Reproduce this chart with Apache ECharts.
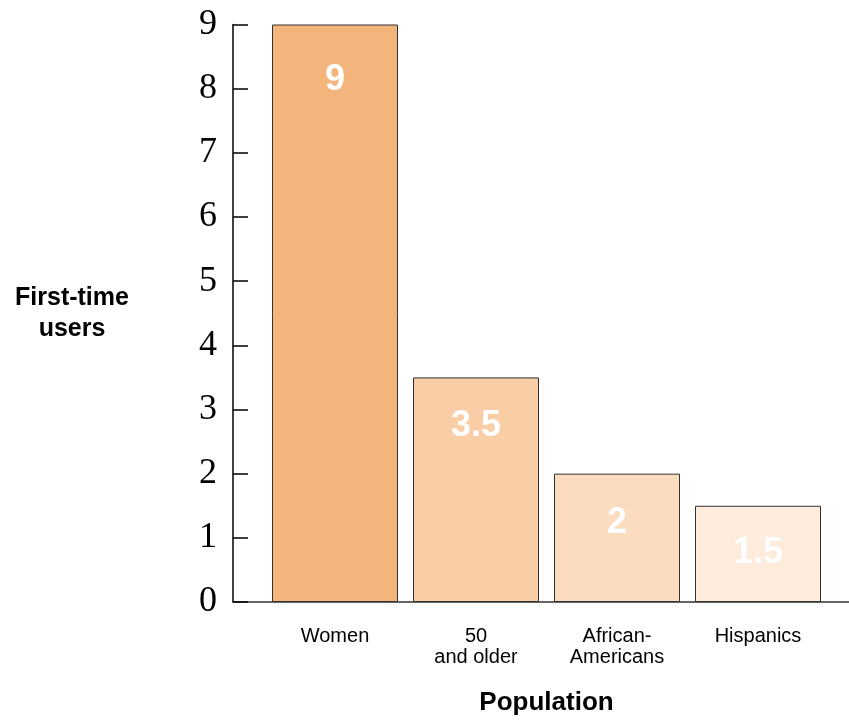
<!DOCTYPE html>
<html>
<head>
<meta charset="utf-8">
<script src="https://cdn.jsdelivr.net/npm/echarts@6/dist/echarts.min.js"></script>
<style>html,body{margin:0;padding:0;background:#fff;}#c{width:849px;height:721px;}</style>
</head>
<body>
<div id="c"></div>
<script>
var categories = ['Women', '50\nand older', 'African-\nAmericans', 'Hispanics'];
var values = [9, 3.5, 2, 1.5];
var yTicks = [0, 1, 2, 3, 4, 5, 6, 7, 8, 9];

var barColors = ['#F4B57D', '#F9CDA6', '#FBDCBE', '#FDEBDB'];
var labelDistances = [38, 31, 31, 29];

var chart = echarts.init(document.getElementById('c'), null, {renderer: 'canvas'});
var option = {
  backgroundColor: '#fff',
  animation: false,
  grid: [
    {left: 264.5, right: 20.5, top: 24.5, bottom: 119},
    {left: 233, right: 0, top: 24.5, bottom: 119}
  ],
  xAxis: [
    {
      gridIndex: 0, type: 'category', data: categories,
      axisLine: {show: false}, axisTick: {show: false},
      axisLabel: {color: '#000', fontFamily: 'Liberation Sans, Arial, sans-serif', fontSize: 20, lineHeight: 21, margin: 24},
      name: 'Population', nameLocation: 'middle', nameGap: 88,
      nameTextStyle: {color: '#000', fontFamily: 'Liberation Sans, Arial, sans-serif', fontSize: 26, fontWeight: 'bold'}
    },
    {
      gridIndex: 1, type: 'value', min: 0, max: 1,
      axisLine: {show: true, lineStyle: {color: '#333', width: 1.5}},
      axisTick: {show: false}, axisLabel: {show: false}, splitLine: {show: false}
    }
  ],
  yAxis: [
    {gridIndex: 0, type: 'value', min: 0, max: 9, show: false},
    {
      gridIndex: 1, type: 'value', min: yTicks[0], max: yTicks[yTicks.length - 1], interval: 1,
      axisLine: {show: true, lineStyle: {color: '#000', width: 1.5}},
      axisTick: {show: true, inside: true, length: 15, lineStyle: {color: '#000', width: 1.5}},
      axisLabel: {color: '#000', fontFamily: 'Liberation Serif, Times New Roman, serif', fontSize: 36, margin: 16},
      splitLine: {show: false},
      name: 'First-time\nusers', nameLocation: 'middle', nameGap: 161, nameRotate: 0,
      nameTextStyle: {color: '#000', fontFamily: 'Liberation Sans, Arial, sans-serif', fontSize: 25, fontWeight: 'bold',
        lineHeight: 31, align: 'center', verticalAlign: 'middle', padding: [10, 0, 0, 0]}
    }
  ],
  series: [{
    type: 'bar', xAxisIndex: 0, yAxisIndex: 0, barWidth: 126,
    data: values.map(function (v, i) {
      return {
        value: v,
        itemStyle: {color: barColors[i], borderColor: '#333', borderWidth: 1},
        label: {distance: labelDistances[i]}
      };
    }),
    label: {
      show: true, position: 'insideTop', color: '#fff',
      fontFamily: 'Liberation Sans, Arial, sans-serif', fontSize: 36, fontWeight: 'bold'
    }
  }]
};
chart.setOption(option);
</script>
</body>
</html>
